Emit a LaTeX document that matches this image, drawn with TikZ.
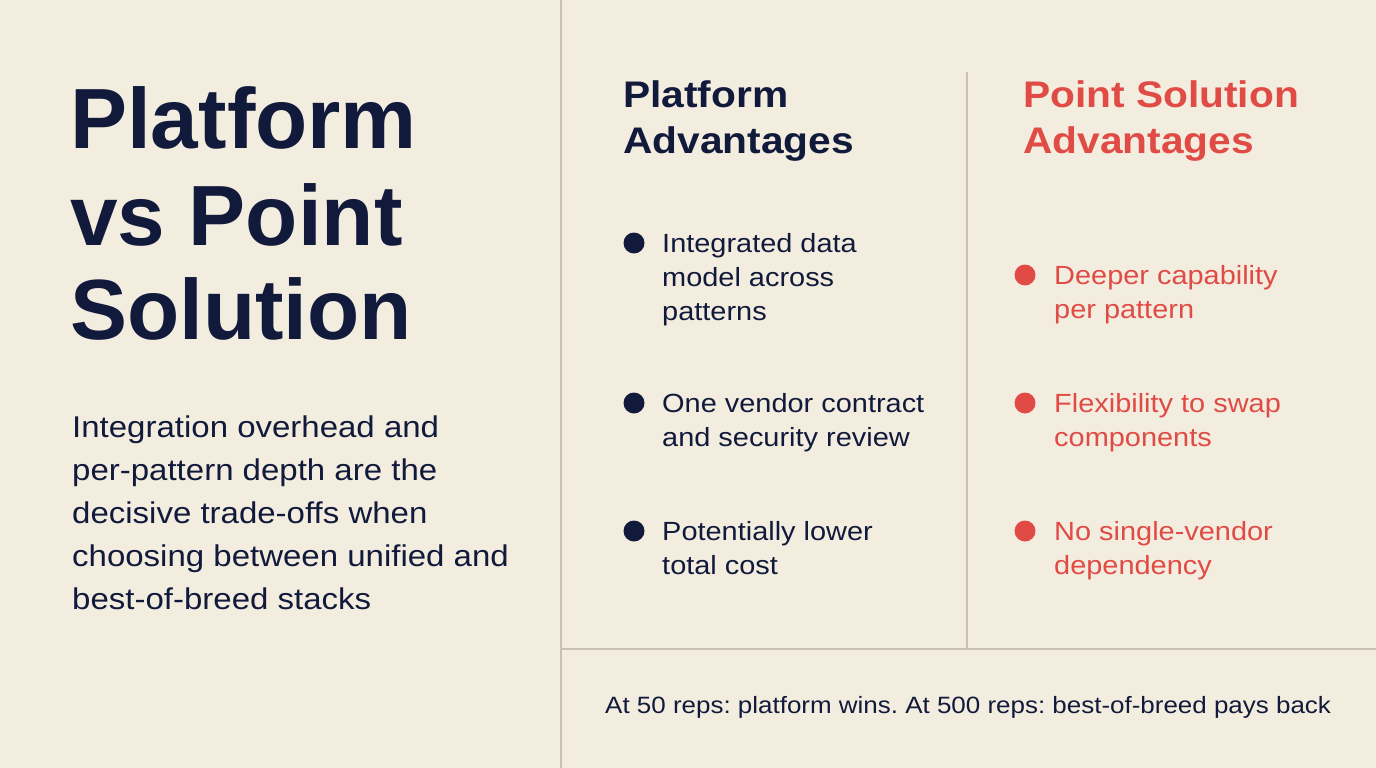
\documentclass[tikz,border=0pt]{standalone}
\usepackage{fontspec}
\setmainfont[FakeStretch=1.1]{Liberation Sans}
\newfontfamily\ttlfont{Liberation Sans}
\frenchspacing
\begin{document}
\begin{tikzpicture}[x=1pt,y=-1pt,
  t/.style={anchor=base west,inner sep=0pt,font=\ttlfont\fontsize{85.5}{90}\selectfont\bfseries,text=nv},
  b/.style={anchor=base west,inner sep=0pt,font=\fontsize{30}{34}\selectfont,text=nv},
  h/.style={anchor=base west,inner sep=0pt,font=\fontsize{37}{40}\selectfont\bfseries},
  i/.style={anchor=base west,inner sep=0pt,font=\fontsize{26.3}{30}\selectfont},
  dot/.style={circle,inner sep=0pt,minimum size=21pt},
  rule/.style={draw=ln,line width=1.6pt}]
\definecolor{bg}{HTML}{F3EDE0}\definecolor{nv}{HTML}{111A3B}
\definecolor{rd}{HTML}{E04B45}\definecolor{ln}{HTML}{CBC1B2}
\fill[bg] (0,0) rectangle (1376,768);
\useasboundingbox (0,0) rectangle (1376,768);
\coordinate (v1) at (561,0); \coordinate (v2) at (561,768);
\coordinate (h1) at (561,649); \coordinate (h2) at (1376,649);
\coordinate (m1) at (967,72); \coordinate (m2) at (967,649);
\draw[rule] (v1)--(v2); \draw[rule] (h1)--(h2); \draw[rule] (m1)--(m2);
\node[t] (t1) at (70,148) {Platform};
\node[t] (t2) at (70,245) {vs Point};
\node[t] (t3) at (70,339) {Solution};
\node[b] (b1) at (72,437) {Integration overhead and};
\node[b] (b2) at (72,480) {per-pattern depth are the};
\node[b] (b3) at (72,523) {decisive trade-offs when};
\node[b] (b4) at (72,566) {choosing between unified and};
\node[b] (b5) at (72,609) {best-of-breed stacks};
\node[h,text=nv] (h1t) at (623,107) {Platform};
\node[h,text=nv] (h2t) at (623,153) {Advantages};
\node[h,text=rd] (h3t) at (1023,107) {Point Solution};
\node[h,text=rd] (h4t) at (1023,153) {Advantages};
\node[dot,fill=nv] (d1) at (634,243) {};
\node[i,text=nv] (p1) at (662,252) {Integrated data};
\node[i,text=nv] (p2) at (662,286) {model across};
\node[i,text=nv] (p3) at (662,320) {patterns};
\node[dot,fill=nv] (d2) at (634,403) {};
\node[i,text=nv] (p4) at (662,412) {One vendor contract};
\node[i,text=nv] (p5) at (662,446) {and security review};
\node[dot,fill=nv] (d3) at (634,531) {};
\node[i,text=nv] (p6) at (662,540) {Potentially lower};
\node[i,text=nv] (p7) at (662,574) {total cost};
\node[dot,fill=rd] (r1) at (1025,275) {};
\node[i,text=rd] (q1) at (1054,284) {Deeper capability};
\node[i,text=rd] (q2) at (1054,318) {per pattern};
\node[dot,fill=rd] (r2) at (1025,403) {};
\node[i,text=rd] (q3) at (1054,412) {Flexibility to swap};
\node[i,text=rd] (q4) at (1054,446) {components};
\node[dot,fill=rd] (r3) at (1025,531) {};
\node[i,text=rd] (q5) at (1054,540) {No single-vendor};
\node[i,text=rd] (q6) at (1054,574) {dependency};
\node[anchor=base west,inner sep=0pt,font=\fontsize{23.6}{26}\selectfont,text=nv] (f) at (605,713) {At 50 reps: platform wins. At 500 reps: best-of-breed pays back};
\end{tikzpicture}
\end{document}
